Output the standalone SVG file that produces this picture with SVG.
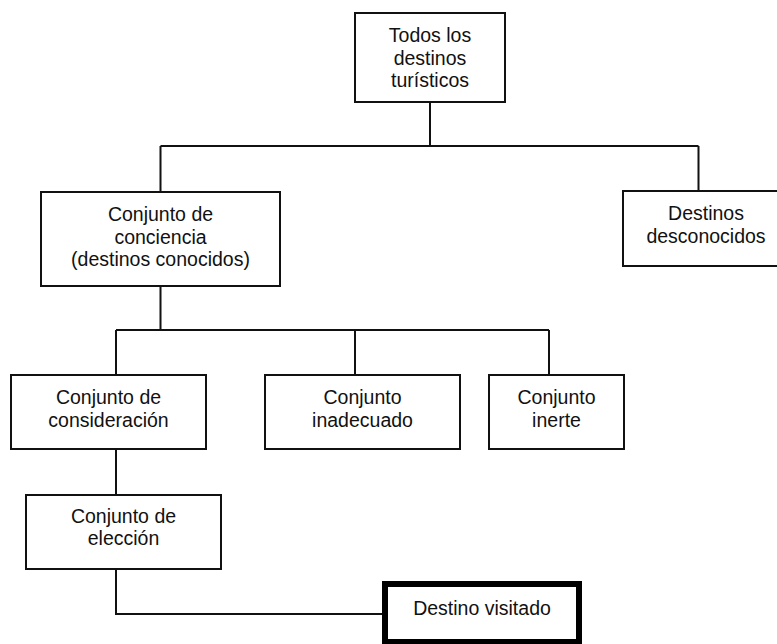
<svg xmlns="http://www.w3.org/2000/svg" width="777" height="644" viewBox="0 0 777 644">
<style>
.box{fill:#fff;stroke:#111;stroke-width:2}
.thick{fill:#fff;stroke:#000;stroke-width:6}
.lbl{font-family:"Liberation Sans",Arial,sans-serif;font-size:19.5px;fill:#111;text-anchor:middle}
.con{fill:none;stroke:#111;stroke-width:2}
</style>
<rect width="777" height="644" fill="#fff"/>
<g id="connectors">
<path class="con" d="M430,102 V146 M160.5,146 H698.5 M160.5,146 V192 M698.5,146 V191"/>
<path class="con" d="M160.5,286 V330 M116,330 H549 M116,330 V375 M355,330 V375 M549,330 V375"/>
<path class="con" d="M116,449 V495"/>
<path class="con" d="M116,569 V614 H382"/>
</g>
<g id="n-todos">
<rect class="box" x="355" y="13" width="150" height="89"/>
<text class="lbl" x="430" y="42">Todos los</text>
<text class="lbl" x="430" y="64.5">destinos</text>
<text class="lbl" x="430" y="87">turísticos</text>
</g>
<g id="n-conciencia">
<rect class="box" x="41" y="192" width="239" height="94"/>
<text class="lbl" x="160.5" y="221">Conjunto de</text>
<text class="lbl" x="160.5" y="243.5">conciencia</text>
<text class="lbl" x="160.5" y="266">(destinos conocidos)</text>
</g>
<g id="n-desconocidos">
<rect class="box" x="623" y="191" width="166" height="75"/>
<text class="lbl" x="706" y="220">Destinos</text>
<text class="lbl" x="706" y="243">desconocidos</text>
</g>
<g id="n-consideracion">
<rect class="box" x="11" y="375" width="195" height="74"/>
<text class="lbl" x="108.5" y="404">Conjunto de</text>
<text class="lbl" x="108.5" y="427">consideración</text>
</g>
<g id="n-inadecuado">
<rect class="box" x="265" y="375" width="195" height="74"/>
<text class="lbl" x="362.5" y="404">Conjunto</text>
<text class="lbl" x="362.5" y="427">inadecuado</text>
</g>
<g id="n-inerte">
<rect class="box" x="489" y="375" width="135" height="74"/>
<text class="lbl" x="556.5" y="404">Conjunto</text>
<text class="lbl" x="556.5" y="427">inerte</text>
</g>
<g id="n-eleccion">
<rect class="box" x="26" y="495" width="195" height="74"/>
<text class="lbl" x="123.5" y="522.5">Conjunto de</text>
<text class="lbl" x="123.5" y="545">elección</text>
</g>
<g id="n-visitado">
<rect class="thick" x="385" y="584" width="194" height="58"/>
<text class="lbl" x="482" y="615">Destino visitado</text>
</g>
</svg>
